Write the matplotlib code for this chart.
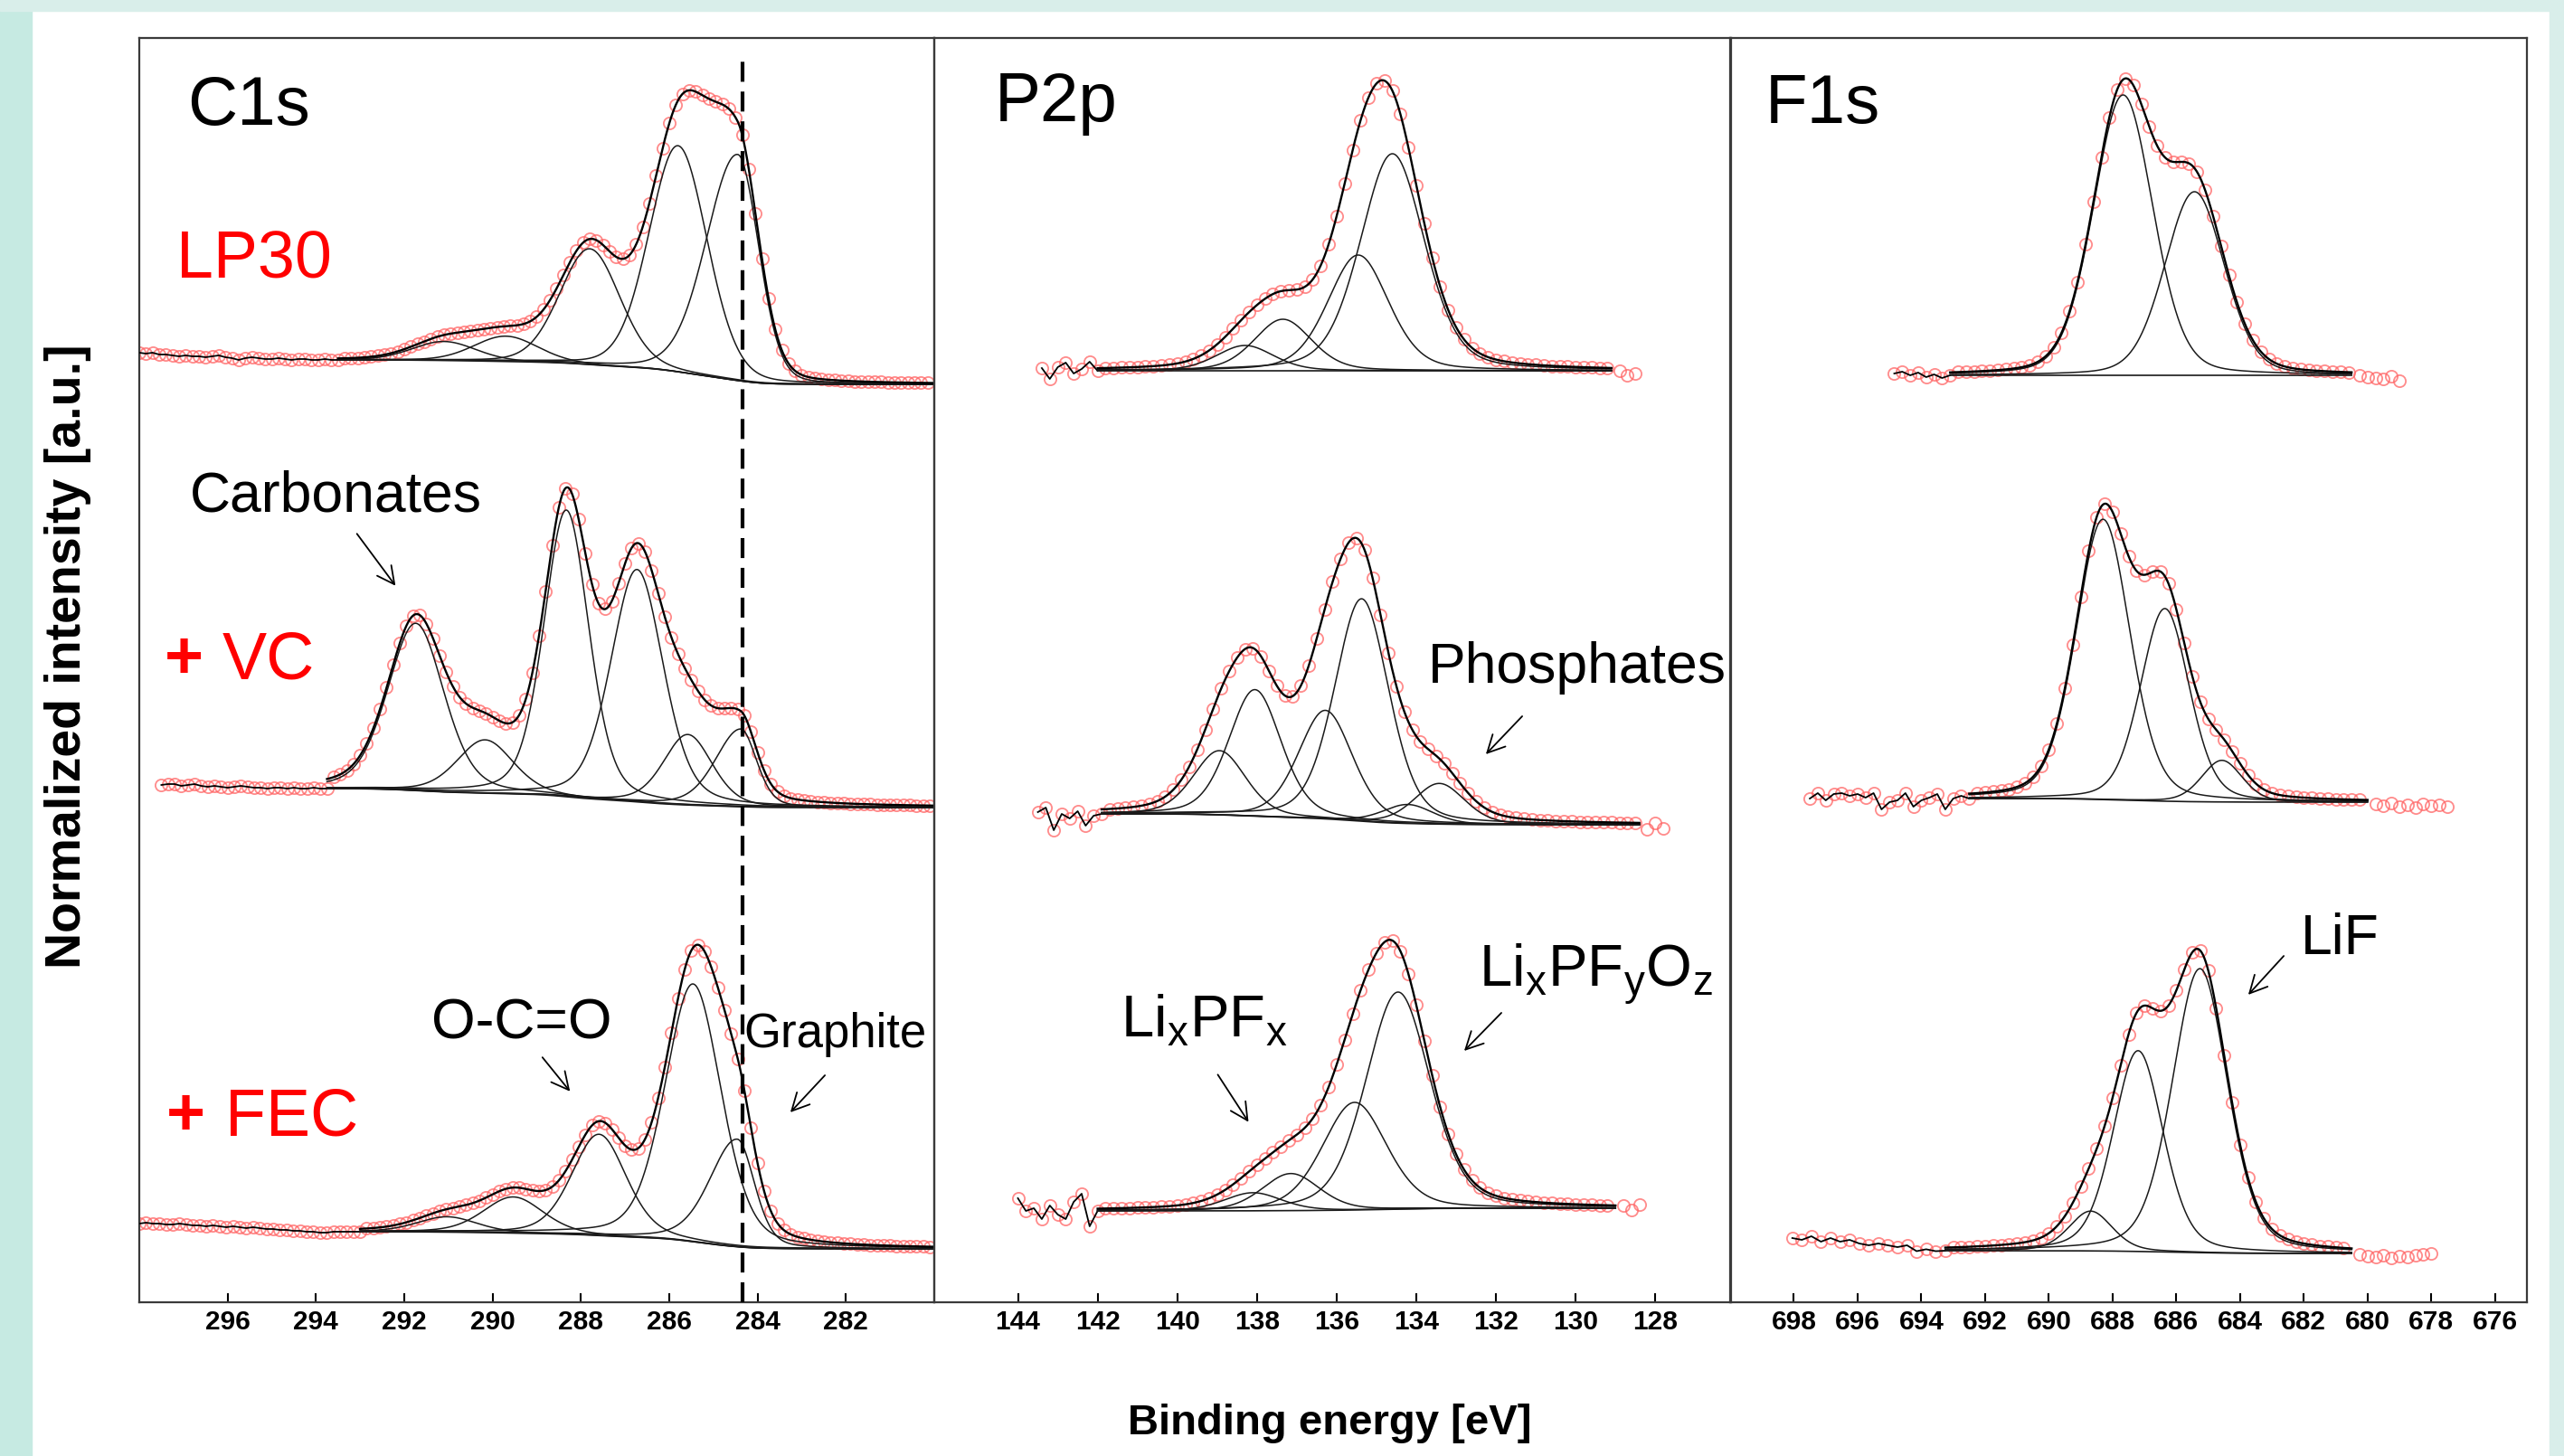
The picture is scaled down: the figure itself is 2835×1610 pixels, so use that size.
import numpy as np
import matplotlib
matplotlib.use("Agg")
import matplotlib.pyplot as plt
from matplotlib.patches import Rectangle, FancyArrowPatch

plt.rcParams['font.family'] = ['Liberation Sans', 'DejaVu Sans']
plt.rcParams['mathtext.fontset'] = 'custom'
plt.rcParams['mathtext.rm'] = 'Liberation Sans'

W, H = 2835, 1610

### peak fits: centre [eV], height [a.u.], fwhm [eV]
### asym = high-BE half width / low-BE half width
## C1s
c1s_lp30_pos = [291.1, 289.7, 287.8, 285.8, 284.45]
c1s_lp30_amp = [21, 28, 128, 250, 250]
c1s_lp30_fwhm = [1.7, 1.7, 1.6, 1.55, 1.4]
c1s_lp30_asym = [1, 1, 1, 1, 1.5]
c1s_lp30_bg = (27, 0)
c1s_lp30_win = (293.5, 280.0)
c1s_lp30_pre = [35, 34, 35, 33, 33, 32, 31, 32, 31, 31, 30, 31, 32, 30, 29, 27,
                29, 30, 29, 28, 28, 29, 28, 27, 28, 28, 27, 27, 28, 27, 27]
c1s_lp30_pre_start = 298.0

c1s_vc_pos = [291.74, 290.17, 288.33, 286.73, 285.58, 284.38]
c1s_vc_amp = [185, 59, 317, 257, 78, 86]
c1s_vc_fwhm = [1.5, 1.5, 1.2, 1.4, 1.3, 1.1]
c1s_vc_asym = [1, 1, 1, 1, 1, 1.6]
c1s_vc_bg = (21, 0)
c1s_vc_win = (293.75, 280.0)
c1s_vc_pre = [25, 26, 26, 24, 25, 26, 24, 23, 24, 23, 22, 23, 24, 23, 22, 22,
              21, 22, 22, 21, 22, 21, 21, 22, 21, 21]
c1s_vc_pre_start = 297.5

c1s_fec_pos = [291.03, 289.53, 287.59, 285.46, 284.46]
c1s_fec_amp = [17, 40, 112, 285, 119]
c1s_fec_fwhm = [1.6, 1.6, 1.45, 1.5, 1.2]
c1s_fec_asym = [1, 1, 1, 1, 1.6]
c1s_fec_bg = (19, 0)
c1s_fec_win = (293.0, 280.0)
c1s_fec_pre = [28, 29, 28, 28, 27, 27, 28, 27, 26, 26, 25, 26, 25, 24, 25, 24, 23,
               24, 23, 22, 22, 21, 21, 20, 20, 19, 19, 18, 18, 19, 19, 19, 19, 19]
c1s_fec_pre_start = 298.0

## P2p
p2p_lp30_pos = [138.3, 137.35, 135.46, 134.6]
p2p_lp30_amp = [28, 57, 128, 240]
p2p_lp30_fwhm = [1.7, 1.7, 1.8, 1.9]
p2p_lp30_bg = (0, 0)
p2p_lp30_win = (142.0, 129.1)
p2p_lp30_pre = [3, -9, 4, 9, -3, 2, 10, 0]
p2p_lp30_pre_start = 143.4
p2p_lp30_post = [0, -5, -3]
p2p_lp30_post_end = 128.5

p2p_vc_pos = [138.94, 138.05, 136.28, 135.37, 134.21, 133.42]
p2p_vc_amp = [71, 140, 120, 246, 21, 45]
p2p_vc_fwhm = [1.55, 1.55, 1.6, 1.6, 1.5, 1.5]
p2p_vc_bg = (12, 0)
p2p_vc_win = (141.9, 128.4)
p2p_vc_pre = [14, 19, -6, 12, 7, 15, -1, 10, 12]
p2p_vc_pre_start = 143.5
p2p_vc_post = [-5, 2, -4]
p2p_vc_post_end = 127.8

p2p_fec_pos = [138.1, 137.15, 135.55, 134.46]
p2p_fec_amp = [20, 41, 119, 240]
p2p_fec_fwhm = [1.7, 1.7, 1.9, 1.9]
p2p_fec_bg = (-3, 0)
p2p_fec_win = (142.0, 129.0)
p2p_fec_pre = [11, -3, 0, -12, 3, -7, -12, 7, 16, -20, -3]
p2p_fec_pre_start = 144.0
p2p_fec_post = [3, -2, 4]
p2p_fec_post_end = 128.4

## F1s
f1s_lp30_pos = [687.67, 685.43]
f1s_lp30_amp = [310, 203]
f1s_lp30_fwhm = [2.2, 2.2]
f1s_lp30_bg = (0, 0)
f1s_lp30_win = (693.1, 680.5)
f1s_lp30_pre = [2, 4, 0, 3, -2, 1, -3, 0]
f1s_lp30_pre_start = 694.85
f1s_lp30_post = [0, -2, -3, -4, -1, -6]
f1s_lp30_post_end = 679.0

f1s_vc_pos = [688.3, 686.36, 684.57]
f1s_vc_amp = [310, 213, 46]
f1s_vc_fwhm = [2.0, 1.8, 1.5]
f1s_vc_bg = (4, 0)
f1s_vc_win = (692.5, 680.0)
f1s_vc_pre = [4, 10, 2, 9, 10, 7, 9, 5, 10, -8, 0, 2, 10, -5, 2, 5, 9, -8, 4, 7, 4]
f1s_vc_pre_start = 697.5
f1s_vc_post = [-2, -4, -1, -5, -3, -6, -2, -4, -3, -5]
f1s_vc_post_end = 677.5

f1s_fec_pos = [688.69, 687.2, 685.26]
f1s_fec_amp = [44, 222, 314]
f1s_fec_fwhm = [1.6, 1.85, 2.05]
f1s_fec_bg = (3, 0)
f1s_fec_win = (693.25, 680.5)
f1s_fec_pre = [17, 15, 19, 13, 17, 13, 15, 11, 9, 11, 9, 7, 9, 2.5, 4.6, 2.5, 3]
f1s_fec_pre_start = 698.05
f1s_fec_post = [-1, -3, -4, -2, -5, -3, -4, -2, -1, 0]
f1s_fec_post_end = 678.0

c1s_ticks = [296, 294, 292, 290, 288, 286, 284, 282]
p2p_ticks = [144, 142, 140, 138, 136, 134, 132, 130, 128]
f1s_ticks = [698, 696, 694, 692, 690, 688, 686, 684, 682, 680, 678, 676]
graphite_be = 284.35


def peak(e, c, a, w, r, m):
    hw = np.where(e > c, w * r / (1 + r), w / (1 + r))
    u = (e - c) / hw
    return a * ((1 - m) * np.exp(-np.log(2) * u ** 2) + m / (1 + u ** 2))


def draw(ax, off, pos, amp, fwhm, bg, win, pre, pre_start, step,
         asym=None, mix=0.25, post=None, post_end=None):
    if asym is None:
        asym = [1] * len(pos)
    e = np.linspace(win[0], win[1], 1500)
    comps = [peak(e, c, a, w, r, mix) for c, a, w, r in zip(pos, amp, fwhm, asym)]
    tot = np.sum(comps, axis=0)
    # shirley type step, lower on the low-BE side
    cum = np.cumsum(tot[::-1])[::-1]
    shirley = bg[1] + (bg[0] - bg[1]) * cum / cum[0]
    env = shirley + tot

    pe = np.linspace(pre_start, win[0], len(pre))
    pv = np.array(pre, dtype=float)
    de = np.arange(win[0] - step, win[1] + 1e-6, -step)
    dv = np.interp(de, e[::-1], env[::-1])
    xs = [pe, de]
    ys = [pv, dv]
    if post is not None:
        xs.append(np.linspace(win[1] - step, post_end, len(post)))
        ys.append(np.array(post, dtype=float))
    ax.plot(np.concatenate(xs), np.concatenate(ys) + off, 'o', ms=9.5,
            mfc='none', mec='#ff6464', mew=1.3, alpha=0.75, zorder=2)

    ax.plot(pe, pv + off, color='k', lw=1.3, zorder=3)
    ax.plot(e, env + off, color='k', lw=1.7, zorder=4)
    ax.plot(e, shirley + off, color='#1a1a1a', lw=1.2, zorder=3)
    for c in comps:
        ax.plot(e, shirley + c + off, color='#1a1a1a', lw=1.1, zorder=3)


fig = plt.figure(figsize=(W / 100, H / 100), dpi=100, facecolor='white')
fig.patches.append(Rectangle((0, 0), 35 / W, 1, transform=fig.transFigure,
                             color='#c6eae2', zorder=-10))
fig.patches.append(Rectangle((0, 1 - 12 / H), 1, 12 / H, transform=fig.transFigure,
                             color='#d9eeea', zorder=-10))
fig.patches.append(Rectangle((2819 / W, 0), 16 / W, 1, transform=fig.transFigure,
                             color='#d9eeea', zorder=-10))


def px_axes(x0, x1, y0, y1):
    ax = fig.add_axes([x0 / W, 1 - y1 / H, (x1 - x0) / W, (y1 - y0) / H])
    ax.patch.set_alpha(0)
    ax.set_ylim(0, y1 - y0)
    ax.set_yticks([])
    for s in ax.spines.values():
        s.set_color('#3a3a3a')
        s.set_linewidth(1.6)
    return ax


def set_ticks(ax, ticks):
    ax.set_xticks(ticks)
    ax.set_xticklabels([str(t) for t in ticks], fontweight='bold')
    ax.tick_params(axis='x', direction='in', length=7.2, width=1.5,
                   labelsize=21.5, pad=6)


ax1 = px_axes(154, 1033, 42, 1440)
ax1.set_xlim(298.0, 280.0)
set_ticks(ax1, c1s_ticks)
ax2 = px_axes(1033, 1914, 42, 1440)
ax2.set_xlim(146.1, 126.1)
set_ticks(ax2, p2p_ticks)
ax3 = px_axes(1913, 2794, 42, 1440)
ax3.set_xlim(700.0, 675.0)
set_ticks(ax3, f1s_ticks)

# C1s
draw(ax1, 1015, c1s_lp30_pos, c1s_lp30_amp, c1s_lp30_fwhm, c1s_lp30_bg, c1s_lp30_win,
     c1s_lp30_pre, c1s_lp30_pre_start, 0.15, asym=c1s_lp30_asym, mix=0.15)
draw(ax1, 547, c1s_vc_pos, c1s_vc_amp, c1s_vc_fwhm, c1s_vc_bg, c1s_vc_win,
     c1s_vc_pre, c1s_vc_pre_start, 0.15, asym=c1s_vc_asym, mix=0.3)
draw(ax1, 59, c1s_fec_pos, c1s_fec_amp, c1s_fec_fwhm, c1s_fec_bg, c1s_fec_win,
     c1s_fec_pre, c1s_fec_pre_start, 0.15, asym=c1s_fec_asym, mix=0.3)
ax1.axvline(graphite_be, ymin=0, ymax=1373 / 1398, color='k', lw=3,
            ls=(0, (5.3, 2.6)), zorder=5)

# P2p
draw(ax2, 1030, p2p_lp30_pos, p2p_lp30_amp, p2p_lp30_fwhm, p2p_lp30_bg, p2p_lp30_win,
     p2p_lp30_pre, p2p_lp30_pre_start, 0.2, mix=0.3,
     post=p2p_lp30_post, post_end=p2p_lp30_post_end)
draw(ax2, 528, p2p_vc_pos, p2p_vc_amp, p2p_vc_fwhm, p2p_vc_bg, p2p_vc_win,
     p2p_vc_pre, p2p_vc_pre_start, 0.2, mix=0.3,
     post=p2p_vc_post, post_end=p2p_vc_post_end)
draw(ax2, 104, p2p_fec_pos, p2p_fec_amp, p2p_fec_fwhm, p2p_fec_bg, p2p_fec_win,
     p2p_fec_pre, p2p_fec_pre_start, 0.2, mix=0.3,
     post=p2p_fec_post, post_end=p2p_fec_post_end)

# F1s
draw(ax3, 1025, f1s_lp30_pos, f1s_lp30_amp, f1s_lp30_fwhm, f1s_lp30_bg, f1s_lp30_win,
     f1s_lp30_pre, f1s_lp30_pre_start, 0.25, mix=0.2,
     post=f1s_lp30_post, post_end=f1s_lp30_post_end)
draw(ax3, 553, f1s_vc_pos, f1s_vc_amp, f1s_vc_fwhm, f1s_vc_bg, f1s_vc_win,
     f1s_vc_pre, f1s_vc_pre_start, 0.25, mix=0.25,
     post=f1s_vc_post, post_end=f1s_vc_post_end)
draw(ax3, 54, f1s_fec_pos, f1s_fec_amp, f1s_fec_fwhm, f1s_fec_bg, f1s_fec_win,
     f1s_fec_pre, f1s_fec_pre_start, 0.25, mix=0.3,
     post=f1s_fec_post, post_end=f1s_fec_post_end)


def ftext(x, y, s, **kw):
    kw.setdefault('va', 'baseline')
    kw.setdefault('ha', 'left')
    return fig.text(x / W, 1 - y / H, s, **kw)


def arrow(x0, y0, x1, y1):
    fig.add_artist(FancyArrowPatch((x0 / W, 1 - y0 / H), (x1 / W, 1 - y1 / H),
                                   transform=fig.transFigure,
                                   arrowstyle='->,head_length=0.55,head_width=0.28',
                                   mutation_scale=25, lw=1.3, color='k'))


ftext(207, 138, 'C1s', fontsize=55)
ftext(1100, 134, 'P2p', fontsize=55)
ftext(1952, 136, 'F1s', fontsize=55)

ftext(195, 307, 'LP30', fontsize=53, color='red')
ftext(182, 750, '+', fontsize=53, color='red', fontweight='bold')
ftext(246, 750, 'VC', fontsize=53, color='red')
ftext(184, 1255, '+', fontsize=53, color='red', fontweight='bold')
ftext(249, 1255, 'FEC', fontsize=53, color='red')

ftext(210, 565, 'Carbonates', fontsize=45)
arrow(393, 588, 439, 650)
ftext(477, 1148, 'O-C=O', fontsize=45)
arrow(598, 1167, 632, 1209)
ftext(822, 1158, 'Graphite', fontsize=38)
arrow(914, 1187, 872, 1232)
ftext(1579, 755, 'Phosphates', fontsize=45)
arrow(1685, 790, 1641, 836)
ftext(1239, 1146, r'Li$_\mathregular{x}$PF$_\mathregular{x}$', fontsize=47)
arrow(1345, 1186, 1382, 1243)
ftext(1635, 1091, r'Li$_\mathregular{x}$PF$_\mathregular{y}$O$_\mathregular{z}$', fontsize=47)
arrow(1662, 1118, 1617, 1164)
ftext(2544, 1055, 'LiF', fontsize=45)
arrow(2527, 1055, 2484, 1102)

ftext(1470, 1586, 'Binding energy [eV]', fontsize=34, fontweight='bold', ha='center')
ftext(75, 726, 'Normalized intensity [a.u.]', fontsize=40, fontweight='bold',
      rotation=90, va='center', ha='center')

fig.savefig('out.png', dpi=100, facecolor='white')
